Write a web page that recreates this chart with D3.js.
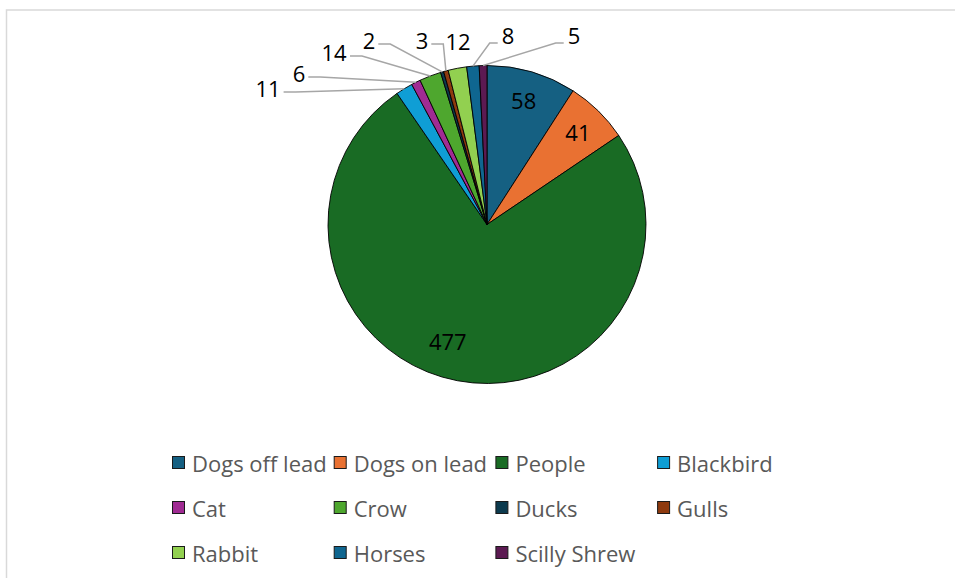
<!DOCTYPE html>
<html>
<head>
<meta charset="utf-8">
<script src="https://cdn.jsdelivr.net/npm/d3@7/dist/d3.min.js"></script>
<style>
  html, body { margin: 0; padding: 0; background: #fff; }
  svg { display: block; font-family: "Open Sans", "DejaVu Sans", sans-serif; }
</style>
</head>
<body>
<svg id="chart" width="955" height="578"></svg>
<script>
// Sightings by category
const categories = ["Dogs off lead", "Dogs on lead", "People", "Blackbird", "Cat", "Crow",
                    "Ducks", "Gulls", "Rabbit", "Horses", "Scilly Shrew"];
const counts = [58, 41, 477, 11, 6, 14, 2, 3, 12, 8, 5];
const colors = ["#156082", "#E97132", "#196B24", "#0F9ED5", "#A02B93", "#4EA72E",
                "#0C3A4E", "#8E3A0F", "#92D050", "#0F6690", "#5C1A52"];

// Layout
const W = 955, H = 578;
const cx = 487, cy = 224.5, R = 159;
const insideRadius = 130;
// Where the small-slice labels sit (text centres, page pixels)
const outerLabelAt = {
  "Blackbird": [268, 88], "Cat": [299, 73], "Crow": [334, 52], "Ducks": [369, 40],
  "Gulls": [422, 40], "Rabbit": [458, 41], "Horses": [508, 35], "Scilly Shrew": [574, 35]
};
const insideNudge = { "People": [-15, -11] };

const svg = d3.select("#chart");

// chart area frame
svg.append("rect")
  .attr("x", 6.5).attr("y", 10)
  .attr("width", 2000).attr("height", 2000)
  .attr("fill", "#fff")
  .attr("stroke", "#d9d9d9").attr("stroke-width", 1.5);

const data = categories.map((c, i) => ({ name: c, value: counts[i], color: colors[i] }));

const pie = d3.pie().value(d => d.value).sort(null);
const arcs = pie(data);
const arc = d3.arc().innerRadius(0).outerRadius(R);

const g = svg.append("g").attr("transform", `translate(${cx},${cy})`);

g.selectAll("path.slice")
  .data(arcs)
  .join("path")
  .attr("class", "slice")
  .attr("d", arc)
  .attr("fill", d => d.data.color)
  .attr("stroke", "#000")
  .attr("stroke-width", 0.9)
  .attr("stroke-linejoin", "round");

const fontSize = 22;

// Labels inside the large slices
const labelArc = d3.arc().innerRadius(insideRadius).outerRadius(insideRadius);
arcs.filter(d => !outerLabelAt[d.data.name]).forEach(d => {
  const [x, y] = labelArc.centroid(d);
  const n = insideNudge[d.data.name] || [0, 0];
  g.append("text")
    .attr("x", x + n[0]).attr("y", y + n[1])
    .attr("text-anchor", "middle")
    .attr("dominant-baseline", "central")
    .attr("font-size", fontSize)
    .attr("fill", "#000")
    .text(d.value);
});

// Labels outside the small slices, with leader lines
const edgeArc = d3.arc().innerRadius(R).outerRadius(R);
const leaders = svg.append("g");
const outerLabels = svg.append("g");
arcs.filter(d => outerLabelAt[d.data.name]).forEach(d => {
  const [lx, ly] = outerLabelAt[d.data.name];
  const t = outerLabels.append("text")
    .attr("x", lx).attr("y", ly)
    .attr("text-anchor", "middle")
    .attr("dominant-baseline", "central")
    .attr("font-size", fontSize)
    .attr("fill", "#000")
    .text(d.value);
  const bb = t.node().getBBox();
  const [ex, ey] = edgeArc.centroid(d);
  const px = cx + ex, py = cy + ey;
  if (Math.abs(px - lx) < 10) return; // label sits right over its slice
  let pts;
  if (bb.x + bb.width < px) {
    const sx = bb.x + bb.width + 3, sy = ly + 4;
    pts = [[sx, sy], [sx + 12, sy], [px, py]];
  } else {
    const sx = bb.x - 4, sy = ly + 8;
    pts = [[sx, sy], [sx - 8, sy], [px, py]];
  }
  leaders.append("path")
    .attr("d", d3.line()(pts))
    .attr("fill", "none")
    .attr("stroke", "#a6a6a6")
    .attr("stroke-width", 1.5);
});

// Legend: 4 columns x 3 rows
const legendX0 = 172, colW = 161.7, rowY0 = 462.5, rowH = 45, sw = 12;
const legend = svg.append("g");
data.forEach((d, i) => {
  const col = i % 4, row = Math.floor(i / 4);
  const x = legendX0 + col * colW, y = rowY0 + row * rowH;
  legend.append("rect")
    .attr("x", x + 0.5).attr("y", y - sw / 2)
    .attr("width", sw).attr("height", sw)
    .attr("fill", d.color)
    .attr("stroke", "#1a1a1a").attr("stroke-width", 1);
  legend.append("text")
    .attr("x", x + 20).attr("y", y)
    .attr("dominant-baseline", "central")
    .attr("font-size", 22)
    .attr("fill", "#595959")
    .text(d.name);
});
</script>
</body>
</html>
